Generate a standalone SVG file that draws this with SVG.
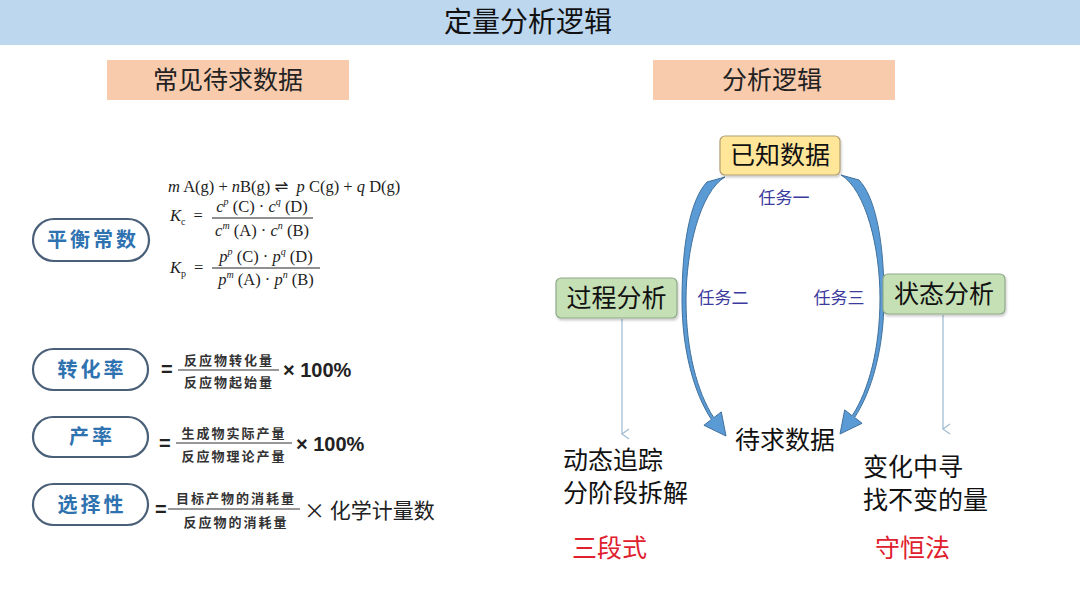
<svg xmlns="http://www.w3.org/2000/svg" width="1080" height="608" viewBox="0 0 1080 608">
<defs>
<style>
.cjk{font-family:"Noto Sans CJK SC","Noto Sans",sans-serif;}
.title{font-size:28px;fill:#111;}
.sub{font-size:25px;fill:#222;}
.pill rect{fill:#fff;stroke:#4a5f78;stroke-width:2.2;}
.pill text{font-size:20px;font-weight:bold;fill:#2f72b0;letter-spacing:3px;}
.frac{font-size:13px;font-weight:bold;fill:#333;letter-spacing:2px;}
.big{font-size:20px;font-weight:bold;fill:#222;font-family:"Liberation Sans",sans-serif;}
.math{font-family:"Liberation Serif","DejaVu Serif",serif;font-size:16.5px;fill:#222;}
.node{font-size:25px;fill:#111;}
.task{font-size:17px;fill:#3b3b9e;}
.note{font-size:25px;fill:#111;}
.red{font-size:25px;fill:#e0202c;}
.thin{stroke:#a3bdd3;stroke-width:1.3;fill:none;}
.curved{fill:#5b9bd5;stroke:#41719c;stroke-width:1;}
</style>
<marker id="open" markerWidth="12" markerHeight="12" refX="6" refY="10" orient="auto" markerUnits="userSpaceOnUse" viewBox="0 0 12 12">
<path d="M1,3 L6,10 L11,3" fill="none" stroke="#a3bdd3" stroke-width="1.3"/>
</marker>
<filter id="sh" x="-10%" y="-10%" width="130%" height="140%"><feDropShadow dx="1" dy="2" stdDeviation="1.2" flood-color="#000" flood-opacity="0.2"/></filter>
</defs>
<rect width="1080" height="608" fill="#fff"/>

<g id="header">
<rect x="0" y="0" width="1080" height="45" fill="#bdd7ee"/>
<text class="cjk title" x="528" y="32" text-anchor="middle">定量分析逻辑</text>
</g>

<g id="sub-left">
<rect x="107" y="60" width="242" height="40" fill="#f8cbad"/>
<text class="cjk sub" x="228" y="89" text-anchor="middle">常见待求数据</text>
</g>
<g id="sub-right">
<rect x="653" y="60" width="242" height="40" fill="#f8cbad"/>
<text class="cjk sub" x="772" y="89" text-anchor="middle">分析逻辑</text>
</g>

<!-- left column -->
<g id="pill-kc" class="pill">
<rect x="33" y="219" width="116" height="42" rx="21"/>
<text class="cjk" x="93" y="247" text-anchor="middle">平衡常数</text>
</g>
<g id="formula-eq" class="math">
<text x="168" y="192" xml:space="preserve"><tspan font-style="italic">m</tspan> A(g) + <tspan font-style="italic">n</tspan>B(g) <tspan font-family="DejaVu Sans">⇌</tspan>  <tspan font-style="italic">p</tspan> C(g) + <tspan font-style="italic">q</tspan> D(g)</text>
<text x="170" y="221"><tspan font-style="italic">K</tspan><tspan font-size="10" dy="4">c</tspan><tspan dy="-4" dx="8">=</tspan></text>
<text x="262" y="212" text-anchor="middle" xml:space="preserve"><tspan font-style="italic">c</tspan><tspan font-size="10" dy="-7" font-style="italic">p</tspan><tspan dy="7"> (C) · </tspan><tspan font-style="italic">c</tspan><tspan font-size="10" dy="-7" font-style="italic">q</tspan><tspan dy="7"> (D)</tspan></text>
<line x1="212" y1="218" x2="313" y2="218" stroke="#222" stroke-width="1"/>
<text x="262" y="236" text-anchor="middle" xml:space="preserve"><tspan font-style="italic">c</tspan><tspan font-size="10" dy="-7" font-style="italic">m</tspan><tspan dy="7"> (A) · </tspan><tspan font-style="italic">c</tspan><tspan font-size="10" dy="-7" font-style="italic">n</tspan><tspan dy="7"> (B)</tspan></text>
<text x="170" y="273"><tspan font-style="italic">K</tspan><tspan font-size="10" dy="4">p</tspan><tspan dy="-4" dx="8">=</tspan></text>
<text x="266" y="262" text-anchor="middle" xml:space="preserve"><tspan font-style="italic">p</tspan><tspan font-size="10" dy="-7" font-style="italic">p</tspan><tspan dy="7"> (C) · </tspan><tspan font-style="italic">p</tspan><tspan font-size="10" dy="-7" font-style="italic">q</tspan><tspan dy="7"> (D)</tspan></text>
<line x1="212" y1="268" x2="320" y2="268" stroke="#222" stroke-width="1"/>
<text x="266" y="285" text-anchor="middle" xml:space="preserve"><tspan font-style="italic">p</tspan><tspan font-size="10" dy="-7" font-style="italic">m</tspan><tspan dy="7"> (A) · </tspan><tspan font-style="italic">p</tspan><tspan font-size="10" dy="-7" font-style="italic">n</tspan><tspan dy="7"> (B)</tspan></text>
</g>

<g id="pill-conv" class="pill">
<rect x="33" y="349" width="115" height="41" rx="20.5"/>
<text class="cjk" x="92" y="377" text-anchor="middle">转化率</text>
</g>
<g id="formula-conv">
<text class="big" x="161" y="376">=</text>
<text class="cjk frac" x="229" y="365" text-anchor="middle">反应物转化量</text>
<line x1="178" y1="370" x2="279" y2="370" stroke="#333" stroke-width="1.2"/>
<text class="cjk frac" x="229" y="387" text-anchor="middle">反应物起始量</text>
<text class="big" x="283" y="377">× 100%</text>
</g>

<g id="pill-yield" class="pill">
<rect x="33" y="417" width="115" height="40" rx="20"/>
<text class="cjk" x="92" y="444" text-anchor="middle">产率</text>
</g>
<g id="formula-yield">
<text class="big" x="159" y="450">=</text>
<text class="cjk frac" x="234" y="438" text-anchor="middle">生成物实际产量</text>
<line x1="176" y1="443" x2="292" y2="443" stroke="#333" stroke-width="1.2"/>
<text class="cjk frac" x="234" y="461" text-anchor="middle">反应物理论产量</text>
<text class="big" x="296" y="451">× 100%</text>
</g>

<g id="pill-sel" class="pill">
<rect x="33" y="484" width="115" height="41" rx="20.5"/>
<text class="cjk" x="92" y="512" text-anchor="middle">选择性</text>
</g>
<g id="formula-sel">
<text class="big" x="155" y="516">=</text>
<text class="cjk frac" x="236" y="503" text-anchor="middle">目标产物的消耗量</text>
<line x1="168" y1="509" x2="300" y2="509" stroke="#333" stroke-width="1.2"/>
<text class="cjk frac" x="236" y="527" text-anchor="middle">反应物的消耗量</text>
<text class="cjk" x="304" y="518" font-size="21" fill="#222">× 化学计量数</text>
</g>

<!-- right: connectors -->
<g id="connectors">
<path class="curved" d="M725,177 C700,192 686,250 686,300 C686,350 697,392 713.8,417.7 L721.3,411.9 L726,436 L703.9,425.3 L711.4,419.5 C694,393 682,350 682,300 C682,245 690,200 707,182 Z"/>
<path class="curved" transform="translate(1566,-2) scale(-1,1)" d="M725,177 C700,192 686,250 686,300 C686,350 697,392 713.8,417.7 L721.3,411.9 L726,436 L703.9,425.3 L711.4,419.5 C694,393 682,350 682,300 C682,245 690,200 707,182 Z"/>
<line class="thin" x1="622" y1="319" x2="622" y2="434" marker-end="url(#open)"/>
<line class="thin" x1="943" y1="315" x2="943" y2="429" marker-end="url(#open)"/>
<text class="cjk task" x="784" y="204" text-anchor="middle">任务一</text>
<text class="cjk task" x="723" y="304" text-anchor="middle">任务二</text>
<text class="cjk task" x="839" y="304" text-anchor="middle">任务三</text>
</g>

<g id="node-known">
<rect x="720" y="136" width="120" height="39" rx="5" fill="#ffe699" stroke="#b0a070" stroke-width="1.2" filter="url(#sh)"/>
<text class="cjk node" x="780" y="164" text-anchor="middle">已知数据</text>
</g>
<g id="node-process">
<rect x="556" y="278" width="121" height="40" rx="5" fill="#c5e0b4" stroke="#8fa88a" stroke-width="1.2" filter="url(#sh)"/>
<text class="cjk node" x="616.5" y="307" text-anchor="middle">过程分析</text>
</g>
<g id="node-state">
<rect x="883" y="274" width="122" height="40" rx="5" fill="#c5e0b4" stroke="#8fa88a" stroke-width="1.2" filter="url(#sh)"/>
<text class="cjk node" x="944" y="303" text-anchor="middle">状态分析</text>
</g>
<g id="node-target">
<text class="cjk node" x="785" y="449" text-anchor="middle">待求数据</text>
</g>
<g id="note-process">
<text class="cjk note" x="563" y="469">动态追踪</text>
<text class="cjk note" x="563" y="502">分阶段拆解</text>
<text class="cjk red" x="572" y="557">三段式</text>
</g>
<g id="note-state">
<text class="cjk note" x="863" y="476">变化中寻</text>
<text class="cjk note" x="863" y="509">找不变的量</text>
<text class="cjk red" x="875" y="557">守恒法</text>
</g>
</svg>
